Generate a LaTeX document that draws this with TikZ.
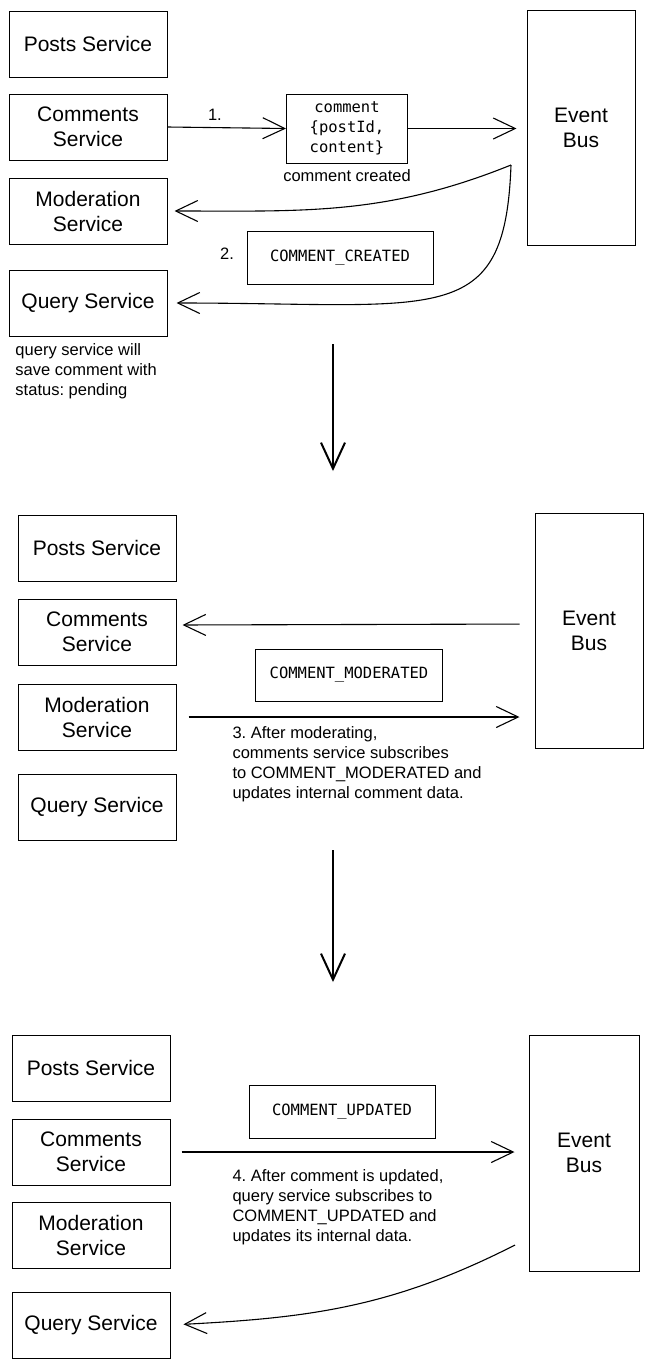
\documentclass[tikz,border=0pt]{standalone}
\usepackage{fontspec}
\setmainfont{Liberation Sans}
\setmonofont{DejaVu Sans Mono}
\usetikzlibrary{arrows.meta,positioning,calc}
\frenchspacing

\begin{document}
\begin{tikzpicture}[x=1pt, y=1pt, line width=1pt,
    svc/.style={draw, rectangle, minimum width=158pt, minimum height=66pt, align=center, font=\fontsize{21}{25}\selectfont},
    bus/.style={draw, rectangle, minimum width=108pt, minimum height=235pt, align=center, font=\fontsize{21}{25}\selectfont},
    msg/.style={draw, rectangle, minimum width=186pt, minimum height=53pt, align=center, font=\ttfamily\fontsize{15.5}{20}\selectfont},
    note/.style={align=left, inner sep=0pt, font=\fontsize{16.5}{20}\selectfont},
    arr/.style={-{Straight Barb[length=22pt,width=21pt]}, line width=1.1pt},
    bigarr/.style={-{Straight Barb[length=26pt,width=24pt]}, line width=2pt}]
    \useasboundingbox (0,0) rectangle (653,-1366);
    \fill[white] (0,0) rectangle (653,-1366);

    % panel 1: comment created
    \node [svc] (posts1) at (88,-44) {Posts Service};
    \node [svc, below=16pt of posts1] (comments1) {Comments\\Service};
    \node [svc, below=17pt of comments1] (mod1) {Moderation\\Service};
    \node [svc, below=25pt of mod1] (query1) {Query Service};
    \node [bus] (bus1) at (581,-127.5) {Event\\Bus};
    \node [msg, minimum width=121pt, minimum height=69pt] (payload1) at (347,-128.5) {comment\\\{postId,\\content\}};
    \node [note, below=6pt of payload1] (created1) {comment created};
    \node [msg] (evt1) at (340,-258) {COMMENT\_CREATED};
    \node [note] (two1) at (227,-254) {2.};
    \node [note, anchor=north west] (pending1) at (15,-343) {query service will\\save comment with\\status: pending};
    \coordinate (src1) at (511,-165);

    \draw [arr] (comments1.east) -- node[note, pos=0.4, above=7pt] {1.} (payload1.west);
    \draw [arr, shorten >=10pt] (payload1.east) -- (payload1.east -| bus1.west);
    \draw [arr, shorten >=7pt] (src1) to[out=202, in=0] (mod1.east);
    \draw [arr, shorten >=9pt] (src1) .. controls (505,-330) and (440,-303) .. (query1.east);

    % big arrow to panel 2
    \coordinate (down1a) at (333,-344);
    \coordinate (down1b) at (333,-471);
    \draw [bigarr] (down1a) -- (down1b);

    % panel 2: comment moderated
    \node [svc] (posts2) at (97,-548) {Posts Service};
    \node [svc, below=17pt of posts2] (comments2) {Comments\\Service};
    \node [svc, below=18pt of comments2] (mod2) {Moderation\\Service};
    \node [svc, below=23pt of mod2] (query2) {Query Service};
    \node [bus] (bus2) at (589,-631) {Event\\Bus};
    \node [msg, minimum width=187pt, minimum height=52pt] (evt2) at (349,-675) {COMMENT\_MODERATED};
    \node [note, anchor=north west] (step3) at (232,-726) {3. After moderating,\\comments service subscribes\\to COMMENT\_MODERATED and\\updates internal comment data.};

    \draw [arr, shorten <=15pt, shorten >=6pt] ([yshift=7pt]bus2.west) -- ([yshift=7pt]comments2.east);
    \draw [arr, shorten <=12pt, shorten >=15pt] (mod2.east) -- (mod2.east -| bus2.west);

    % big arrow to panel 3
    \coordinate (down2a) at (333,-850);
    \coordinate (down2b) at (333,-982);
    \draw [bigarr] (down2a) -- (down2b);

    % panel 3: comment updated
    \node [svc] (posts3) at (91,-1068) {Posts Service};
    \node [svc, below=17pt of posts3] (comments3) {Comments\\Service};
    \node [svc, below=16pt of comments3] (mod3) {Moderation\\Service};
    \node [svc, below=23pt of mod3] (query3) {Query Service};
    \node [bus, minimum width=110pt, minimum height=236pt] (bus3) at (584,-1153) {Event\\Bus};
    \node [msg] (evt3) at (342,-1111.5) {COMMENT\_UPDATED};
    \node [note, anchor=north west] (step4) at (232,-1169) {4. After comment is updated,\\query service subscribes to\\COMMENT\_UPDATED and\\updates its internal data.};
    \coordinate (src3) at (515,-1245);

    \draw [arr, shorten <=11pt, shorten >=14pt] (comments3.east) -- (comments3.east -| bus3.west);
    \draw [arr, shorten >=13pt] (src3) to[out=207, in=3] (query3.east);
\end{tikzpicture}
\end{document}
